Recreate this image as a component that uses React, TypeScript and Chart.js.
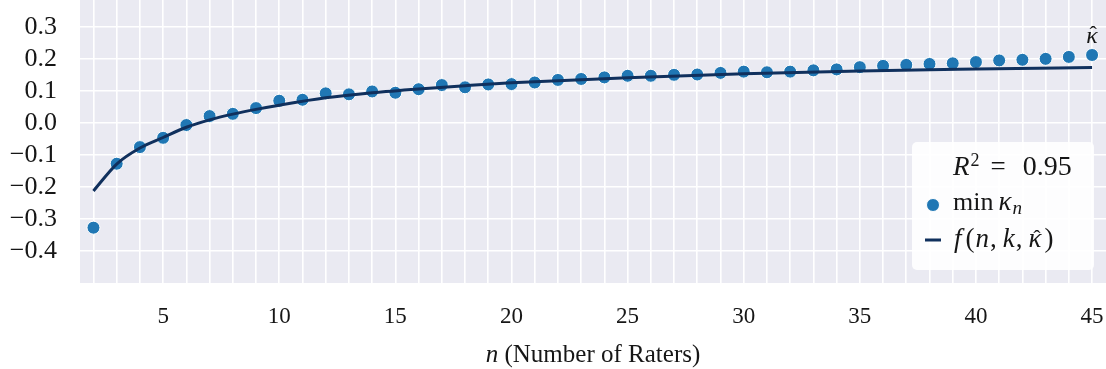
import React, { useEffect, useRef } from "react";
import { Chart, registerables } from "chart.js";

Chart.register(...registerables);

// ---- data ----
const nValues = [
  2, 3, 4, 5, 6, 7, 8, 9, 10, 11, 12, 13, 14, 15, 16, 17, 18, 19, 20, 21, 22, 23,
  24, 25, 26, 27, 28, 29, 30, 31, 32, 33, 34, 35, 36, 37, 38, 39, 40, 41, 42, 43, 44, 45,
];
const minKappa = [
  -0.327, -0.127, -0.075, -0.046, -0.006, 0.022, 0.029, 0.047, 0.07, 0.073, 0.093,
  0.09, 0.099, 0.095, 0.106, 0.119, 0.112, 0.121, 0.122, 0.127, 0.135, 0.138, 0.143,
  0.148, 0.148, 0.151, 0.152, 0.157, 0.161, 0.159, 0.161, 0.165, 0.168, 0.175, 0.179,
  0.182, 0.185, 0.187, 0.191, 0.196, 0.198, 0.201, 0.207, 0.213,
];
const curveN = [2, 3, 4, 5, 6, 7, 8, 9, 10, 12, 14, 16, 18, 20, 25, 30, 35, 40, 45];
const curveF = [
  -0.212, -0.128, -0.078, -0.045, -0.013, 0.01, 0.028, 0.043, 0.056, 0.079, 0.095,
  0.107, 0.117, 0.126, 0.142, 0.154, 0.163, 0.169, 0.174,
];
const xTickValues = [
  2, 3, 4, 5, 6, 7, 8, 9, 10, 11, 12, 13, 14, 15, 16, 17, 18, 19, 20, 21, 22, 23,
  24, 25, 26, 27, 28, 29, 30, 31, 32, 33, 34, 35, 36, 37, 38, 39, 40, 41, 42, 43, 44, 45,
];
const xLabelValues = [5, 10, 15, 20, 25, 30, 35, 40, 45];
const yTickValues = [-0.4, -0.3, -0.2, -0.1, 0, 0.1, 0.2, 0.3];
const rSquaredText = "0.95";

const FONT = '"Liberation Serif", "DejaVu Serif", serif';
const BG = "#EAEAF2";
const DOT = "#2077b4";
const LINE = "#10305d";
const TEXT = "#161616";

// text, italic, size, dy, extra gap before
type Part = [string, boolean, number, number, number];

function drawFlow(ctx: CanvasRenderingContext2D, x: number, y: number, parts: Part[]) {
  let cx = x;
  const starts: number[] = [];
  const ends: number[] = [];
  for (const [t, it, size, dy, gap] of parts) {
    ctx.font = `${it ? "italic " : ""}${size}px ${FONT}`;
    cx += gap;
    starts.push(cx);
    ctx.fillText(t, cx, y + dy);
    cx += ctx.measureText(t).width;
    ends.push(cx);
  }
  return { starts, ends };
}

function drawHat(ctx: CanvasRenderingContext2D, cx: number, baseline: number, size: number) {
  ctx.font = `${size}px ${FONT}`;
  const a = ctx.textAlign;
  ctx.textAlign = "center";
  ctx.fillText("ˆ", cx, baseline);
  ctx.textAlign = a;
}

const decor = {
  id: "decor",
  beforeDraw(chart: any) {
    const { ctx, chartArea: a } = chart;
    ctx.save();
    ctx.fillStyle = BG;
    ctx.fillRect(a.left, a.top, a.right - a.left, a.bottom - a.top);
    ctx.restore();
  },
  afterDraw(chart: any) {
    const { ctx, chartArea: a, scales } = chart;
    ctx.save();
    ctx.fillStyle = TEXT;
    ctx.textBaseline = "alphabetic";

    // kappa-hat annotation at the last point
    const lx = scales.x.getPixelForValue(nValues[nValues.length - 1]);
    const ly = scales.y.getPixelForValue(minKappa[minKappa.length - 1]);
    ctx.font = `italic 24px ${FONT}`;
    ctx.textAlign = "center";
    ctx.fillText("κ", lx, ly - 12);
    drawHat(ctx, lx + 1, ly - 14, 22);

    // axis title
    ctx.textAlign = "left";
    ctx.font = `italic 25px ${FONT}`;
    const w1 = ctx.measureText("n ").width;
    ctx.font = `25px ${FONT}`;
    const w2 = ctx.measureText("(Number of Raters)").width;
    const tx0 = (a.left + a.right) / 2 - (w1 + w2) / 2;
    ctx.font = `italic 25px ${FONT}`;
    ctx.fillText("n", tx0, 362);
    ctx.font = `25px ${FONT}`;
    ctx.fillText("(Number of Raters)", tx0 + w1, 362);

    // legend box
    const boxW = 182;
    const boxH = 128;
    const boxR = a.right - 12;
    const boxB = a.bottom - 13;
    const bl = boxR - boxW;
    const bt = boxB - boxH;
    ctx.fillStyle = "rgba(255,255,255,0.9)";
    ctx.beginPath();
    ctx.roundRect(bl, bt, boxW, boxH, 5);
    ctx.fill();

    ctx.fillStyle = TEXT;
    const tx = bl + 41;
    // R^2 row
    drawFlow(ctx, tx, bt + 33, [
      ["R", true, 27, 0, 0],
      ["2", false, 18, -9, 1],
      ["=", false, 27, 0, 11],
      [rSquaredText, false, 28, 0, 17],
    ]);
    // scatter entry
    ctx.fillStyle = DOT;
    ctx.strokeStyle = "#fff";
    ctx.lineWidth = 1;
    ctx.beginPath();
    ctx.arc(bl + 21, bt + 63, 6.5, 0, Math.PI * 2);
    ctx.fill();
    ctx.stroke();
    ctx.fillStyle = TEXT;
    drawFlow(ctx, tx, bt + 68, [
      ["min", false, 26, 0, 0],
      ["κ", true, 27, 0, 5],
      ["n", true, 19, 4, 1],
    ]);
    // line entry
    ctx.strokeStyle = LINE;
    ctx.lineWidth = 3;
    ctx.beginPath();
    ctx.moveTo(bl + 13, bt + 98);
    ctx.lineTo(bl + 29, bt + 98);
    ctx.stroke();
    ctx.fillStyle = TEXT;
    const r = drawFlow(ctx, tx, bt + 105, [
      ["f", true, 27, 0, 1],
      ["(", false, 27, 0, 4],
      ["n", true, 27, 0, 1],
      [",", false, 27, 0, 1],
      ["k", true, 27, 0, 6],
      [",", false, 27, 0, 1],
      ["κ", true, 27, 0, 6],
      [")", false, 27, 0, 3],
    ]);
    drawHat(ctx, (r.starts[6] + r.ends[6]) / 2 + 2, bt + 103, 22);
    ctx.restore();
  },
};

export default function App() {
  const ref = useRef<HTMLCanvasElement | null>(null);

  useEffect(() => {
    if (!ref.current) return;
    const gridOpts = { color: "#ffffff", lineWidth: 1.6, drawTicks: false, tickLength: 0 };
    const chart = new Chart(ref.current, {
      type: "scatter",
      data: {
        datasets: [
          {
            label: "f(n, k, κ̂)",
            data: curveN.map((x, i) => ({ x, y: curveF[i] })),
            showLine: true,
            borderColor: LINE,
            borderWidth: 3,
            pointRadius: 0,
            cubicInterpolationMode: "monotone",
            fill: false,
            order: 0,
          } as any,
          {
            label: "min κn",
            data: nValues.map((x, i) => ({ x, y: minKappa[i] })),
            backgroundColor: DOT,
            borderColor: "#ffffff",
            borderWidth: 1,
            pointRadius: 6.5,
            order: 1,
          },
        ],
      },
      options: {
        animation: false,
        responsive: false,
        layout: { padding: 0, autoPadding: false },
        plugins: { legend: { display: false }, tooltip: { enabled: false } },
        scales: {
          x: {
            type: "linear",
            min: 1.42,
            max: 45.6,
            afterBuildTicks: (s: any) => {
              s.ticks = xTickValues.map((v) => ({ value: v }));
            },
            ticks: {
              autoSkip: false,
              maxRotation: 0,
              padding: 20,
              color: TEXT,
              font: { family: FONT, size: 23 },
              callback: (v: any) => (xLabelValues.includes(Number(v)) ? String(v) : ""),
            },
            grid: gridOpts,
            border: { display: false },
            afterFit: (s: any) => {
              s.height = 86;
              s.paddingLeft = 0;
              s.paddingRight = 0;
            },
          },
          y: {
            type: "linear",
            min: -0.5,
            max: 0.385,
            afterBuildTicks: (s: any) => {
              s.ticks = yTickValues.map((v) => ({ value: v }));
            },
            ticks: {
              padding: 23,
              color: TEXT,
              font: { family: FONT, size: 26 },
              callback: (v: any) => (Number(v) < 0 ? "−" : "") + Math.abs(Number(v)).toFixed(1),
            },
            grid: gridOpts,
            border: { display: false },
            afterFit: (s: any) => {
              s.width = 80;
              s.paddingTop = 0;
              s.paddingBottom = 0;
            },
          },
        },
      } as any,
      plugins: [decor],
    });
    return () => chart.destroy();
  }, []);

  return (
    <div style={{ position: "absolute", left: 0, top: 0, width: 1106, height: 369, background: "#fff" }}>
      <canvas ref={ref} width={1106} height={369} style={{ display: "block" }} />
    </div>
  );
}
